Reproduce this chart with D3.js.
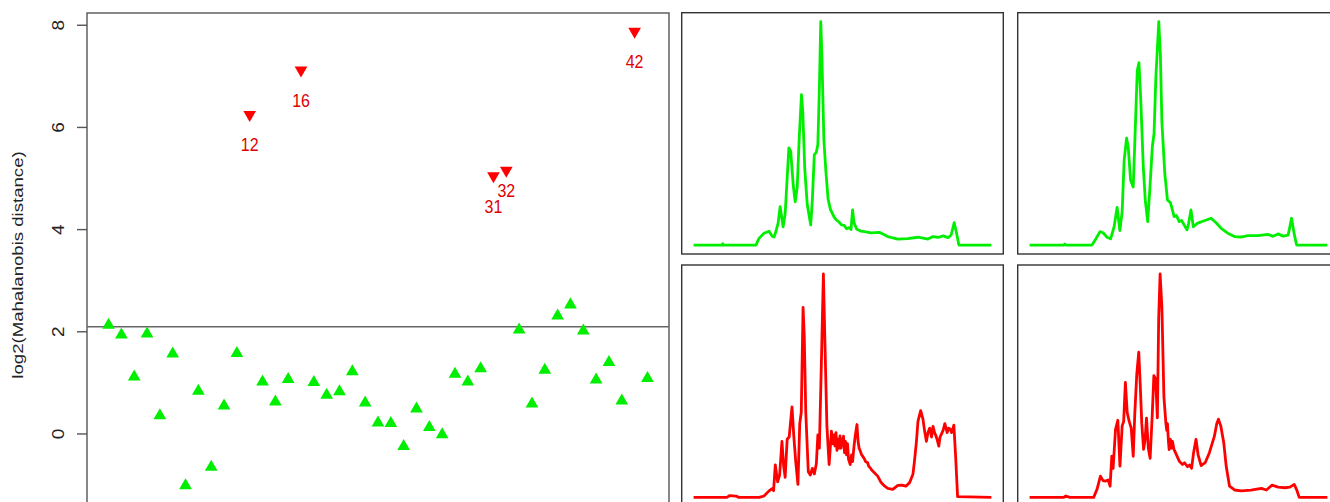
<!DOCTYPE html>
<html>
<head>
<meta charset="utf-8">
<script src="https://cdn.jsdelivr.net/npm/d3@7"></script>
<style>
  html, body { margin: 0; padding: 0; background: #fff; }
  svg { display: block; }
  text { font-family: "Liberation Sans", Arial, Helvetica, sans-serif; }
</style>
</head>
<body>
<svg id="chart" width="1330" height="502"></svg>
<script>
// ---- sample distances (log2 Mahalanobis) ----
const sampleIds = d3.range(1, 44);
const logDist = [
  2.12, 1.93, 1.11, 1.95, 0.35, 1.56, -1.02, 0.83, -0.66, 0.54,
  1.57, 6.24, 1.01, 0.62, 1.06, 7.11, 1.00, 0.75, 0.82, 1.21,
  0.60, 0.21, 0.20, -0.25, 0.48, 0.12, -0.02, 1.16, 1.01, 1.27,
  5.04, 5.15, 2.03, 0.58, 1.24, 2.30, 2.52, 2.01, 1.05, 1.39,
  0.64, 7.87, 1.08
];
const outlierIds = [12, 16, 31, 32, 42];
const cutoff = 2.09;
const yTicks = [0, 2, 4, 6, 8];

// ---- spectra: position index and relative intensity ----
const specInlierA = {
  x: [0, 28, 29, 30, 62, 65, 70, 75, 78, 80, 82, 84, 86, 87.5, 89, 91, 93, 94.7, 96.5, 99, 101, 103, 105, 107.2, 108.5, 110.5, 113, 116.4, 118, 120, 122, 123.5, 125, 126.4, 127.5, 129.5, 131.5, 133.7, 136, 139.7, 142, 144.7, 147, 149.7, 152, 154.7, 156.5, 158, 159.5, 162, 166.4, 170, 176.4, 184.7, 193, 203, 213, 223, 233, 238, 243, 248, 253, 256, 259, 261.4, 263.7, 296],
  y: [0, 0, 0.6, 0, 0, 3.0, 5.3, 6.2, 4.0, 3.6, 6.4, 9.8, 17.2, 12.7, 8.2, 14, 30, 43.5, 42, 27, 19.4, 26, 48, 67.3, 60, 34, 18, 9.0, 20, 40.5, 41.5, 45, 70, 100, 85, 47, 33, 20.5, 16, 12.5, 11.2, 10.2, 9.0, 8.8, 7.3, 7.8, 7.0, 15.7, 10, 7.2, 6.2, 6.0, 5.5, 5.7, 3.8, 2.7, 2.9, 3.5, 2.7, 3.8, 3.4, 4.1, 3.3, 4.5, 10.0, 5.3, 0, 0]
};
const specInlierB = {
  x: [0, 34, 35, 36, 62, 65.5, 70, 73, 77, 80.5, 84, 87, 89.7, 92, 94, 96.4, 98, 100.4, 103, 104.5, 107, 108.7, 110.5, 113, 115, 117.4, 119.5, 122, 123.7, 125.5, 128.4, 130, 131.5, 134.4, 137, 140, 143.7, 146, 148.7, 151, 153, 156.4, 158, 160.4, 162.7, 167, 173.7, 180.4, 185.4, 190.4, 197, 203.7, 210, 217, 227, 237, 242, 247, 252, 257, 260.4, 263, 265.4, 296],
  y: [0, 0, 0.5, 0, 0, 2.5, 6.0, 5.5, 3.5, 2.8, 8.2, 16.9, 6.5, 15, 38, 47.8, 44, 29, 26, 45, 78, 81.6, 65, 35, 20, 10.5, 25, 44, 50, 75, 100, 85, 55, 32, 20.2, 19, 12.7, 13.2, 10.5, 11, 9.5, 6.8, 9.5, 15.7, 8.2, 9.8, 10.9, 12, 10, 7.5, 5.3, 3.8, 3.6, 4.2, 4.2, 4.8, 3.9, 5.0, 4.0, 4.5, 12, 5, 0, 0]
};
const specOutlierA = {
  x: [0, 33, 36, 42, 45, 65, 70, 74.7, 78, 79.5, 81.2, 83.5, 85.5, 87.8, 89.5, 91, 93, 95, 97.8, 99.5, 101.5, 103.7, 105.5, 107, 108.8, 110, 111.5, 114, 116, 118, 120, 122, 123.5, 125, 127, 129, 130.5, 132.5, 134.7, 137, 138.5, 139.5, 140.5, 141.5, 142.5, 143.5, 144.5, 145.5, 146.5, 147.5, 148.3, 149, 150, 151, 152, 153, 154, 155.7, 157, 158, 159.5, 160.5, 162.4, 163.5, 164.5, 165.5, 167, 168, 170, 171, 173, 174, 176, 177, 179.7, 183, 186.4, 190, 193, 198, 203, 207, 211, 214.7, 218, 219.5, 221.5, 223, 225.7, 228, 229.5, 231.4, 233, 234.7, 236.5, 238, 239.5, 240.5, 242, 243.7, 245, 246, 248, 249.7, 251, 252, 253.5, 255, 256.5, 258.7, 260.5, 262.4, 296],
  y: [0, 0, 0.8, 0.6, 0, 0, 0.6, 2.8, 3.9, 3.0, 14.5, 7, 10, 25, 14, 9, 26, 27, 40.5, 28, 16, 5.8, 33, 38, 85, 72, 38, 11.5, 10, 13, 10.5, 15, 28, 22, 60, 100, 70, 32, 14.7, 29.6, 24, 28, 23, 29, 21, 26, 22, 27.5, 22, 26, 24, 27.4, 20, 25, 19, 24, 17, 14.7, 19, 16, 23, 27, 32.6, 25, 22, 21, 19, 18.5, 17, 16, 15.5, 14, 13, 12.2, 11, 9.5, 6.6, 5.0, 4.0, 3.6, 5.4, 5.5, 5.0, 6.6, 10.3, 16, 25, 34, 38.8, 35, 30, 25.1, 29, 31, 27, 31.8, 29, 28, 26, 22.9, 27, 28, 30, 33, 31, 29, 31, 30.5, 29, 32.3, 18, 0.3, 0]
};
const specOutlierB = {
  x: [0, 34, 36, 40, 63.7, 67, 70.4, 73, 75.4, 78, 80, 81.7, 83, 85.4, 87.7, 89.8, 92, 93.5, 95.2, 97, 99, 101, 103, 104.5, 106.5, 108.5, 110, 111.5, 113.3, 114.8, 116.2, 118, 119.8, 122, 123.5, 125.3, 127, 128.3, 129.7, 131.5, 133.5, 135.4, 136.3, 137, 138, 138.7, 140, 141, 142, 143.5, 145, 147, 149, 152, 154, 157, 159, 161, 163, 165.4, 167.5, 170.5, 174.5, 178.7, 183.7, 186, 187.7, 190, 193, 195.4, 198.7, 203.7, 210.4, 220, 230.4, 235.4, 241, 247, 253.7, 258.7, 263, 265.4, 268, 296],
  y: [0, 0, 0.6, 0, 0, 3.6, 9.5, 7.5, 7.3, 7.8, 5, 18.4, 13, 30.4, 34.5, 14, 32, 34, 51.5, 38, 34, 31, 18.4, 37, 55, 65, 50, 33, 21.5, 26, 35.5, 22, 17.5, 38, 54.5, 53, 35.6, 80, 100, 85, 45, 33.5, 30, 33, 25, 21.4, 26, 22, 25, 21.5, 20, 18, 16, 14.7, 15.5, 13.7, 14.5, 13, 20, 26, 19, 14.2, 15.5, 20, 27.4, 33, 35, 32, 24.4, 14, 5, 3.3, 2.9, 3.2, 4, 3.3, 5.5, 4.6, 4.3, 4.6, 5.8, 3.5, 0, 0]
};

const GREEN = "#00ee00";
const RED = "#ff0000";
const svg = d3.select("#chart");

// ---- main scatter panel ----
const main = { left: 87, right: 669, top: 13, bottom: 506 };
const pad = 0.04 * (d3.max(sampleIds) - d3.min(sampleIds));
const x = d3.scaleLinear()
  .domain([d3.min(sampleIds) - pad, d3.max(sampleIds) + pad])
  .range([main.left, main.right]);
const y = d3.scaleLinear().domain([-1.42, 8.23]).range([main.bottom, main.top]);

const points = sampleIds.map((id, i) => ({ id, v: logDist[i], out: outlierIds.includes(id) }));

// frame
svg.append("rect")
  .attr("x", main.left).attr("y", main.top)
  .attr("width", main.right - main.left).attr("height", main.bottom - main.top)
  .attr("fill", "none").attr("stroke", "#555").attr("stroke-width", 1.4);

// y axis
const yAxis = d3.axisLeft(y).tickValues(yTicks).tickSize(10).tickSizeOuter(0);
const gy = svg.append("g").attr("transform", `translate(${main.left},0)`).call(yAxis);
gy.select(".domain").remove();
gy.selectAll(".tick line").attr("stroke", "#555").attr("stroke-width", 1.4);
gy.selectAll(".tick text").remove();
gy.selectAll(".tick").append("text")
  .attr("transform", `translate(-29,0) scale(1,1.12) rotate(-90)`)
  .attr("text-anchor", "middle").attr("dy", "0.35em")
  .attr("fill", "#222").attr("font-size", 17)
  .text(d => d);

svg.append("text")
  .attr("transform", `translate(18,265) scale(1,1.2) rotate(-90)`)
  .attr("text-anchor", "middle").attr("dy", "0.35em")
  .attr("fill", "#222").attr("font-size", 15.5)
  .text("log2(Mahalanobis distance)");

// cutoff line
svg.append("line")
  .attr("x1", main.left).attr("x2", main.right)
  .attr("y1", y(cutoff)).attr("y2", y(cutoff))
  .attr("stroke", "#666").attr("stroke-width", 1.4);

// points
const tri = d3.symbol().type(d3.symbolTriangle).size(70);
svg.append("g").selectAll("path").data(points).join("path")
  .attr("d", tri)
  .attr("transform", d => `translate(${x(d.id)},${y(d.v)}) rotate(${d.out ? 180 : 0})`)
  .attr("fill", d => d.out ? RED : GREEN);

// outlier labels (32 sits closer to its marker to clear 31's label)
const labelNudge = { 32: -10 };
svg.append("g").selectAll("text").data(points.filter(d => d.out)).join("text")
  .attr("transform", d => `translate(${x(d.id)},${y(d.v) + 30 + (labelNudge[d.id] || 0)}) scale(1,1.18)`)
  .attr("text-anchor", "middle").attr("dy", "0.35em")
  .attr("fill", "#e00000").attr("font-size", 16)
  .text(d => d.id);

// ---- spectrum panels ----
const panels = [
  { spec: specInlierA, color: GREEN, left: 681.7, top: 12.7 },
  { spec: specInlierB, color: GREEN, left: 1017.7, top: 12.7 },
  { spec: specOutlierA, color: RED, left: 681.7, top: 265 },
  { spec: specOutlierB, color: RED, left: 1017.7, top: 265 }
];
const pw = 321.6, ph = 241.3;

panels.forEach(p => {
  const xs = p.spec.x, ys = p.spec.y;
  const [x0, x1] = d3.extent(xs);
  const [y0, y1] = d3.extent(ys);
  const px = d3.scaleLinear()
    .domain([x0 - 0.04 * (x1 - x0), x1 + 0.04 * (x1 - x0)])
    .range([p.left, p.left + pw]);
  const py = d3.scaleLinear()
    .domain([y0 - 0.04 * (y1 - y0), y1 + 0.04 * (y1 - y0)])
    .range([p.top + ph, p.top]);
  const g = svg.append("g");
  g.append("rect")
    .attr("x", p.left).attr("y", p.top).attr("width", pw).attr("height", ph)
    .attr("fill", "none").attr("stroke", "#333").attr("stroke-width", 1.4);
  const line = d3.line().x((d, i) => px(xs[i])).y(d => py(d));
  g.append("path")
    .datum(ys)
    .attr("d", line)
    .attr("fill", "none")
    .attr("stroke", p.color)
    .attr("stroke-width", 2.8)
    .attr("stroke-linejoin", "round");
});
</script>
</body>
</html>
